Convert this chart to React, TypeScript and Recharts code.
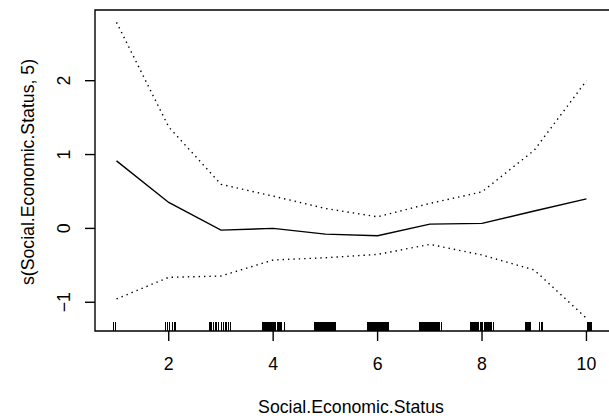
import React from 'react';
import { ComposedChart, Line, Scatter, XAxis, YAxis, ReferenceArea } from 'recharts';

const xValues = [1, 2, 3, 4, 5, 6, 7, 8, 9, 10];
const fitValues = [0.914, 0.351, -0.023, 0.0, -0.077, -0.1, 0.058, 0.068, 0.235, 0.4];
const upperValues = [2.79, 1.373, 0.597, 0.437, 0.27, 0.157, 0.338, 0.495, 1.058, 2.0];
const lowerValues = [-0.955, -0.662, -0.645, -0.428, -0.397, -0.352, -0.216, -0.36, -0.563, -1.216];

const xTicks = [2, 4, 6, 8, 10];
const yTicks = [-1, 0, 1, 2];

const rugValues = [
  0.94, 0.985,
  1.94, 1.98, 2.02, 2.07, 2.12,
  2.79, 2.82, 2.85, 2.89, 2.92, 2.95, 3.01, 3.05, 3.08, 3.11, 3.14, 3.18,
  3.8, 3.82, 3.84, 3.86, 3.88, 3.9, 3.92, 3.95, 3.97, 3.99, 4.01, 4.03, 4.05, 4.08, 4.1, 4.12, 4.14, 4.16, 4.21,
  4.8, 4.82, 4.84, 4.86, 4.88, 4.9, 4.92, 4.94, 4.96, 4.98, 5.0, 5.02, 5.04, 5.06, 5.08, 5.1, 5.12, 5.14, 5.16, 5.18, 5.2,
  5.8, 5.82, 5.84, 5.86, 5.88, 5.9, 5.92, 5.94, 5.96, 5.98, 6.0, 6.02, 6.04, 6.06, 6.08, 6.1, 6.12, 6.14, 6.16, 6.18, 6.21,
  6.8, 6.82, 6.84, 6.86, 6.88, 6.9, 6.92, 6.94, 6.96, 6.98, 7.0, 7.02, 7.04, 7.06, 7.08, 7.1, 7.12, 7.14, 7.16, 7.18, 7.22,
  7.79, 7.81, 7.83, 7.85, 7.87, 7.9, 7.92, 7.94, 7.97, 7.99, 8.01, 8.04, 8.06, 8.08, 8.1, 8.13, 8.15, 8.17, 8.22,
  8.84, 8.86, 8.88, 8.92, 9.1, 9.15,
  10.02, 10.04, 10.06, 10.08, 10.1,
];

const Y_MIN = -1.389;
const Y_MAX = 2.957;
const X_MIN = 0.588;
const X_MAX = 10.47;

const lineData = xValues.map((x, i) => ({ x, fit: fitValues[i], upper: upperValues[i], lower: lowerValues[i] }));
const rugData = rugValues.map((x) => ({ x, y: Y_MIN }));

const FONT = '"Liberation Sans", Arial, Helvetica, sans-serif';
const FS = 17.7;

const fmt = (v: number) => (v < 0 ? '\u2212' + String(Math.abs(v)) : String(v));

const XTick = (props: any) => {
  const { x, y, payload } = props;
  return (
    <text x={x} y={y + 27} textAnchor="middle" fontFamily={FONT} fontSize={FS} fill="#000">
      {fmt(payload.value)}
    </text>
  );
};

const YTick = (props: any) => {
  const { x, y, payload } = props;
  const px = x - 13;
  return (
    <text x={px} y={y} transform={`rotate(-90 ${px} ${y})`} textAnchor="middle" fontFamily={FONT} fontSize={FS} fill="#000">
      {fmt(payload.value)}
    </text>
  );
};

const XLabel = (props: any) => {
  const { viewBox } = props;
  const cx = viewBox.x + viewBox.width / 2 - 2;
  return (
    <text x={cx} y={413} textAnchor="middle" fontFamily={FONT} fontSize={FS} fill="#000">
      Social.Economic.Status
    </text>
  );
};

const YLabel = (props: any) => {
  const { viewBox } = props;
  const cx = 33.5;
  const cy = viewBox.y + viewBox.height / 2 + 1.5;
  return (
    <text x={cx} y={cy} transform={`rotate(-90 ${cx} ${cy})`} textAnchor="middle" fontFamily={FONT} fontSize={FS} fill="#000">
      s(Social.Economic.Status, 5)
    </text>
  );
};

const RugTick = (props: any) => {
  const { cx, cy } = props;
  return <line x1={cx} x2={cx} y1={cy} y2={cy - 9.5} stroke="#000" strokeWidth={1.2} shapeRendering="crispEdges" />;
};

export default function App() {
  return (
    <div style={{ position: 'absolute', left: 0, top: 0, width: 609, height: 420, overflow: 'hidden', background: '#fff' }}>
      <ComposedChart width={612} height={420} data={lineData} margin={{ top: 10, right: 1, bottom: 0, left: 0 }}>
        <XAxis
          type="number"
          dataKey="x"
          domain={[X_MIN, X_MAX]}
          ticks={xTicks}
          allowDataOverflow
          axisLine={false}
          tickSize={10}
          tickLine={{ stroke: '#000', strokeWidth: 1.4 }}
          tick={<XTick />}
          height={89}
          label={<XLabel />}
          interval={0}
        />
        <YAxis
          type="number"
          domain={[Y_MIN, Y_MAX]}
          ticks={yTicks}
          allowDataOverflow
          axisLine={false}
          tickSize={10}
          tickLine={{ stroke: '#000', strokeWidth: 1.4 }}
          tick={<YTick />}
          width={95}
          label={<YLabel />}
          interval={0}
        />
        <ReferenceArea x1={X_MIN} x2={X_MAX} y1={Y_MIN} y2={Y_MAX} fill="none" stroke="#000" strokeWidth={1.4} ifOverflow="visible" />
        <Line dataKey="fit" stroke="#000" strokeWidth={1.4} dot={false} isAnimationActive={false} />
        <Line dataKey="upper" stroke="#000" strokeWidth={1.4} strokeDasharray="1.4 4" dot={false} isAnimationActive={false} />
        <Line dataKey="lower" stroke="#000" strokeWidth={1.4} strokeDasharray="1.4 4" dot={false} isAnimationActive={false} />
        <Scatter data={rugData} dataKey="y" shape={<RugTick />} isAnimationActive={false} />
      </ComposedChart>
    </div>
  );
}
